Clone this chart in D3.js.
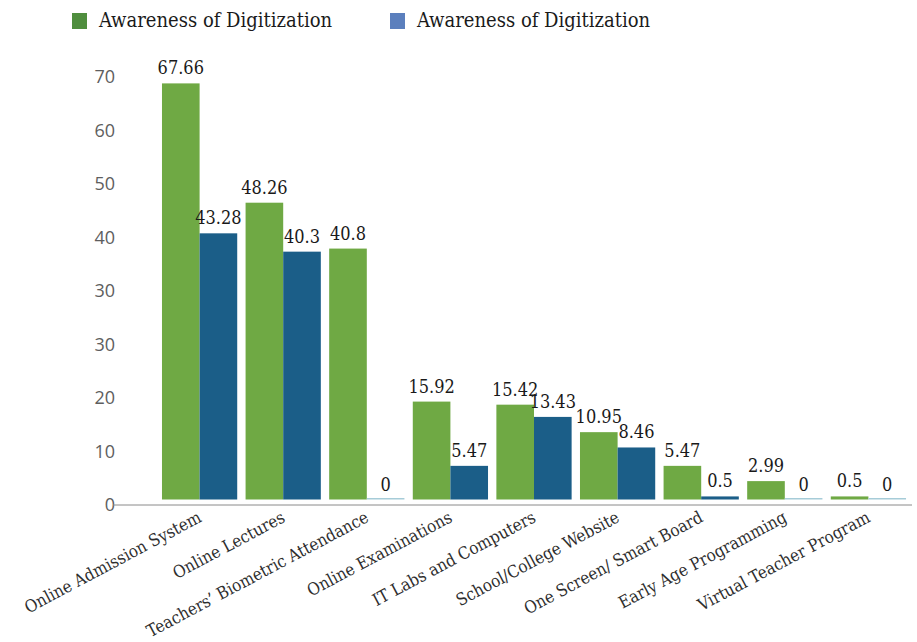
<!DOCTYPE html>
<html>
<head>
<meta charset="utf-8">
<script src="https://cdn.jsdelivr.net/npm/d3@7"></script>
<style>
    body { margin: 0; background: #fff; }
    svg { display: block; }
</style>
</head>
<body>
<svg id="chart" width="917" height="642"></svg>
<script>
// categories and values
var categories = [
    "Online Admission System",
    "Online Lectures",
    "Teachers\u2019 Biometric Attendance",
    "Online Examinations",
    "IT Labs and Computers",
    "School/College Website",
    "One Screen/ Smart Board",
    "Early Age Programming",
    "Virtual Teacher Program"
];
var seriesNames = ["Awareness of Digitization", "Awareness of Digitization"];
var greenValues = [67.66, 48.26, 40.8, 15.92, 15.42, 10.95, 5.47, 2.99, 0.5];
var blueValues = [43.28, 40.3, 0, 5.47, 13.43, 8.46, 0.5, 0, 0];
// the printed axis has "30" twice, kept as in the source
var yTickLabels = ["0", "10", "20", "30", "30", "40", "50", "60", "70"];

var serif = "'DejaVu Serif Condensed', 'DejaVu Serif', serif";
var colors = ["#6fa944", "#1b5e88"];
var legendColors = ["#4f8e3e", "#5b7fbd"];

var svg = d3.select("#chart");

var x0 = d3.scaleBand()
    .domain(categories)
    .range([157.8, 910.2])
    .paddingInner(0.1)
    .paddingOuter(0.05);

var x1 = d3.scaleBand()
    .domain([0, 1])
    .range([0, x0.bandwidth()]);

// bar scale
var y = d3.scaleLinear()
    .domain([0, 70])
    .range([499.5, 69]);

// printed tick positions, evenly spaced
var yTicks = d3.scaleLinear()
    .domain([0, yTickLabels.length - 1])
    .range([505, 77]);

// y axis labels
var yAxis = svg.append("g")
    .attr("transform", "translate(115,0)")
    .call(d3.axisLeft(yTicks)
        .tickValues(d3.range(yTickLabels.length))
        .tickSize(0)
        .tickPadding(0)
        .tickFormat(function (i) { return yTickLabels[i]; }));
yAxis.select(".domain").remove();
yAxis.selectAll("text")
    .attr("font-family", "'Open Sans', sans-serif")
    .attr("font-size", 18)
    .attr("fill", "#5e5e5e");

// baseline
svg.append("line")
    .attr("x1", 113)
    .attr("x2", 912)
    .attr("y1", 505)
    .attr("y2", 505)
    .attr("stroke", "#8a8a8a")
    .attr("stroke-width", 1);

var rows = categories.map(function (c, i) {
    return { cat: c, vals: [greenValues[i], blueValues[i]] };
});

var groups = svg.selectAll("g.group")
    .data(rows)
    .enter().append("g")
    .attr("class", "group")
    .attr("transform", function (d) { return "translate(" + x0(d.cat) + ",0)"; });

groups.selectAll("rect")
    .data(function (d) { return d.vals.map(function (v, k) { return { v: v, k: k }; }); })
    .enter().append("rect")
    .attr("x", function (d) { return x1(d.k); })
    .attr("width", x1.bandwidth())
    .attr("y", function (d) { return Math.min(y(d.v), y(0) - 1.5); })
    .attr("height", function (d) { return Math.max(1.5, y(0) - y(d.v)); })
    .attr("fill", function (d) { return d.v === 0 ? "#a6ccd8" : colors[d.k]; });

groups.selectAll("text.val")
    .data(function (d) { return d.vals.map(function (v, k) { return { v: v, k: k }; }); })
    .enter().append("text")
    .attr("class", "val")
    .attr("x", function (d) { return x1(d.k) + x1.bandwidth() / 2; })
    .attr("y", function (d) { return y(d.v) - 9; })
    .attr("text-anchor", "middle")
    .attr("font-family", serif)
    .attr("font-size", 18)
    .attr("fill", "#1a1a1a")
    .text(function (d) { return d.v; });

// category labels
var xAxis = svg.append("g")
    .attr("transform", "translate(0,505)")
    .call(d3.axisBottom(x0).tickSize(0).tickPadding(0));
xAxis.select(".domain").remove();
xAxis.selectAll("text")
    .attr("font-family", serif)
    .attr("font-size", 17)
    .attr("fill", "#2e2e2e")
    .attr("text-anchor", "end")
    .attr("dy", 0)
    .attr("transform", "translate(3,16) rotate(-28)");

// legend
var legend = svg.selectAll("g.legend")
    .data(seriesNames)
    .enter().append("g")
    .attr("class", "legend")
    .attr("transform", function (d, i) { return "translate(" + (72 + i * 318) + ",0)"; });
legend.append("rect")
    .attr("x", 0)
    .attr("y", 13)
    .attr("width", 15)
    .attr("height", 16)
    .attr("fill", function (d, i) { return legendColors[i]; });
legend.append("text")
    .attr("x", 27)
    .attr("y", 27)
    .attr("font-family", serif)
    .attr("font-size", 20)
    .attr("fill", "#1a1a1a")
    .text(function (d) { return d; });
</script>
</body>
</html>
